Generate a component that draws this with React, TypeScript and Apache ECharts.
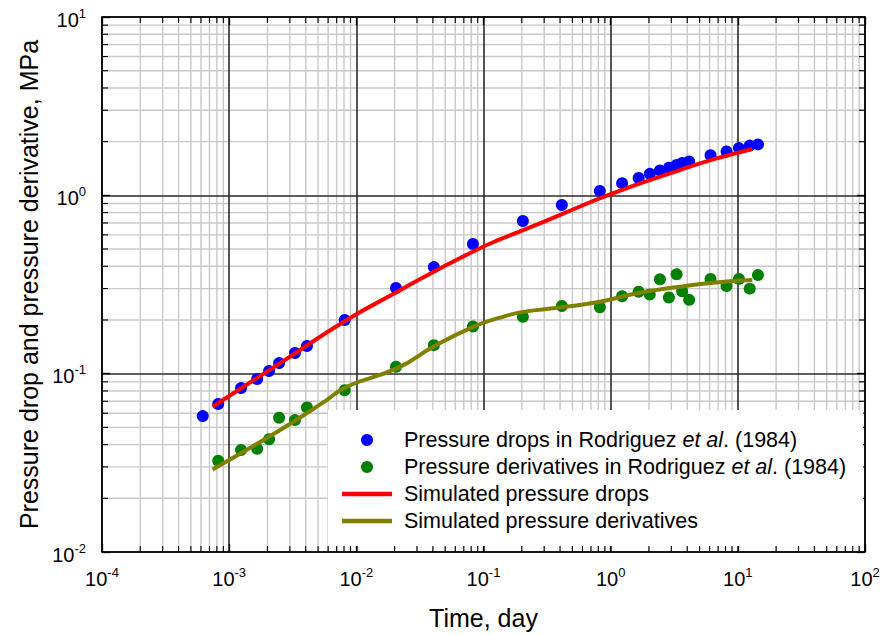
import React, { useEffect, useRef } from 'react';
import * as echarts from 'echarts';

const FONT = "'Liberation Sans', Arial, Helvetica, sans-serif";

const X_MIN = 1e-4;
const X_MAX = 100;
const Y_MIN = 0.01;
const Y_MAX = 10;

// decade starts for minor grid (multiplied by 2..9)
const xDecades = [1e-4, 1e-3, 1e-2, 1e-1, 1, 10];
const yDecades = [1e-2, 1e-1, 1];
const minorMultipliers = [2, 3, 4, 5, 6, 7, 8, 9];

// Measured data (Rodriguez et al., 1984)
const measTime = [
  6.2e-4, 8.2e-4, 1.24e-3, 1.66e-3, 2.06e-3, 2.47e-3, 3.29e-3, 4.09e-3, 8.1e-3,
  0.0205, 0.0407, 0.0826, 0.204, 0.413, 0.822, 1.23, 1.66, 2.03, 2.44, 2.87,
  3.3, 3.65, 4.14, 6.1, 8.15, 10.2, 12.4, 14.4,
];
const measDrop = [
  0.0578, 0.0676, 0.083, 0.0933, 0.1035, 0.1146, 0.1306, 0.143, 0.2,
  0.302, 0.396, 0.533, 0.718, 0.883, 1.057, 1.17, 1.25, 1.32, 1.38, 1.43,
  1.48, 1.52, 1.55, 1.68, 1.76, 1.84, 1.9, 1.93,
];
const derivTime = [
  8.2e-4, 1.24e-3, 1.66e-3, 2.06e-3, 2.47e-3, 3.29e-3, 4.09e-3, 8.1e-3,
  0.0205, 0.0407, 0.0826, 0.204, 0.413, 0.822, 1.23, 1.66, 2.03, 2.44, 2.87,
  3.3, 3.65, 4.14, 6.1, 8.15, 10.2, 12.4, 14.4,
];
const measDeriv = [
  0.0325, 0.0373, 0.0379, 0.0429, 0.0566, 0.0549, 0.0647, 0.0807,
  0.1094, 0.1445, 0.184, 0.2086, 0.2394, 0.2355, 0.2716, 0.2878, 0.278, 0.338, 0.2674,
  0.3606, 0.2897, 0.2594, 0.34, 0.3098, 0.34, 0.2998, 0.357,
];

// Simulated curves
const simDropTime = [7.4e-4, 2.5e-3, 8.4e-3, 0.0205, 0.0403, 0.0937, 0.1346, 0.205, 0.41, 1.0, 3.5, 6.4, 13.0];
const simDrop = [0.0652, 0.1143, 0.2, 0.285, 0.372, 0.505, 0.566, 0.638, 0.782, 1.017, 1.386, 1.59, 1.82];
const simDerivTime = [7.4e-4, 2.5e-3, 5.5e-3, 8.4e-3, 0.0208, 0.0403, 0.083, 0.1346, 0.205, 0.41, 0.82, 1.69, 3.5, 6.4, 13.0];
const simDeriv = [0.029, 0.0482, 0.069, 0.0845, 0.107, 0.1415, 0.183, 0.206, 0.222, 0.2355, 0.253, 0.284, 0.307, 0.3236, 0.335];

const NAME_DROP = 'Pressure drops in Rodriguez et al. (1984)';
const NAME_DERIV = 'Pressure derivatives in Rodriguez et al. (1984)';
const NAME_SIM_DROP = 'Simulated pressure drops';
const NAME_SIM_DERIV = 'Simulated pressure derivatives';

const GRID_MINOR = '#c8c8c8';
const GRID_MAJOR = '#2a2a2a';
const LINE_ICON = 'path://M0 0H100V9H0Z';

const pairs = (xs: number[], ys: number[]) => xs.map((x, i) => [x, ys[i]]);

const expLabel = (v: number) => {
  const e = Math.round(Math.log10(v));
  return `{b|10}{s|${e}}`;
};

const labelRich = {
  b: { fontSize: 20, lineHeight: 26, color: '#000', fontFamily: FONT },
  s: { fontSize: 13, lineHeight: 16, verticalAlign: 'top', color: '#000', fontFamily: FONT },
};

export default function App() {
  const ref = useRef<HTMLDivElement>(null);

  useEffect(() => {
    if (!ref.current) return;
    const chart = echarts.init(ref.current, null, { renderer: 'svg' });

    const minorX = xDecades.flatMap((d) => minorMultipliers.map((m) => m * d));
    const minorY = yDecades.flatMap((d) => minorMultipliers.map((m) => m * d));

    const vRender = (_p: any, api: any) => {
      const v = api.value(0);
      const b = api.coord([v, Y_MIN]);
      const t = api.coord([v, Y_MAX]);
      return {
        type: 'group',
        children: [
          { type: 'line', shape: { x1: b[0], y1: b[1], x2: t[0], y2: t[1] }, style: { stroke: GRID_MINOR, lineWidth: 1.4 } },
          { type: 'line', shape: { x1: b[0], y1: b[1], x2: b[0], y2: b[1] - 6 }, style: { stroke: '#000', lineWidth: 1.1 } },
          { type: 'line', shape: { x1: t[0], y1: t[1], x2: t[0], y2: t[1] + 6 }, style: { stroke: '#000', lineWidth: 1.1 } },
        ],
      };
    };
    const hRender = (_p: any, api: any) => {
      const v = api.value(1);
      const l = api.coord([X_MIN, v]);
      const r = api.coord([X_MAX, v]);
      return {
        type: 'group',
        children: [
          { type: 'line', shape: { x1: l[0], y1: l[1], x2: r[0], y2: r[1] }, style: { stroke: GRID_MINOR, lineWidth: 1.4 } },
          { type: 'line', shape: { x1: l[0], y1: l[1], x2: l[0] + 6, y2: l[1] }, style: { stroke: '#000', lineWidth: 1.1 } },
          { type: 'line', shape: { x1: r[0], y1: r[1], x2: r[0] - 6, y2: r[1] }, style: { stroke: '#000', lineWidth: 1.1 } },
        ],
      };
    };

    const legendFormatter = (name: string) => {
      const idx = name.indexOf('et al.');
      if (idx < 0) return `{f|${name}}`;
      return `{f|${name.slice(0, idx)}}{i|et al}{n|${name.slice(idx + 5)}}`;
    };

    const baseX = { type: 'log', logBase: 10, min: X_MIN, max: X_MAX, z: 1 };
    const baseY = { type: 'log', logBase: 10, min: Y_MIN, max: Y_MAX, z: 1 };
    const axisLine = { show: true, onZero: false, lineStyle: { color: '#000', width: 1.6 } };
    const axisTick = { show: true, inside: true, length: 8, lineStyle: { color: '#000', width: 1.3 } };

    chart.setOption({
      animation: false,
      backgroundColor: '#fff',
      textStyle: { fontFamily: FONT },
      grid: { left: 102, right: 18, top: 17, bottom: 83, containLabel: false, outerBoundsMode: 'none' },
      legend: {
        orient: 'vertical',
        left: 328,
        top: 410,
        padding: [19, 17, 14, 14],
        backgroundColor: '#fff',
        itemWidth: 50,
        itemHeight: 12,
        itemGap: 5,
        symbolKeepAspect: true,
        selectedMode: false,
        data: [
          { name: NAME_DROP, icon: 'circle' },
          { name: NAME_DERIV, icon: 'circle' },
          { name: NAME_SIM_DROP, icon: LINE_ICON },
          { name: NAME_SIM_DERIV, icon: LINE_ICON },
        ],
        formatter: legendFormatter,
        textStyle: {
          fontSize: 21.5,
          color: '#000',
          fontFamily: FONT,
          rich: {
            f: { fontSize: 21.5, color: '#000', fontFamily: FONT, padding: [0, 0, 0, 7] },
            i: { fontSize: 21.5, color: '#000', fontFamily: FONT, fontStyle: 'italic' },
            n: { fontSize: 21.5, color: '#000', fontFamily: FONT },
          },
        },
      },
      xAxis: [
        {
          ...baseX,
          position: 'bottom',
          axisLine,
          axisTick,
          splitLine: { show: true, lineStyle: { color: GRID_MAJOR, width: 1.6 } },
          axisLabel: { margin: 14, formatter: expLabel, rich: labelRich },
          name: 'Time, day',
          nameLocation: 'middle',
          nameGap: 53,
          nameTextStyle: { fontSize: 25, color: '#000', fontFamily: FONT },
        },
        {
          ...baseX,
          position: 'top',
          axisLine,
          axisTick,
          splitLine: { show: false },
          axisLabel: { show: false },
        },
      ],
      yAxis: [
        {
          ...baseY,
          position: 'left',
          axisLine,
          axisTick,
          splitLine: { show: true, lineStyle: { color: GRID_MAJOR, width: 1.6 } },
          axisLabel: { margin: 16, padding: [5, 0, 0, 0], formatter: expLabel, rich: labelRich },
          name: 'Pressure drop and pressure derivative, MPa',
          nameLocation: 'middle',
          nameGap: 60,
          nameRotate: 90,
          nameTextStyle: { fontSize: 25, color: '#000', fontFamily: FONT },
        },
        {
          ...baseY,
          position: 'right',
          axisLine,
          axisTick,
          splitLine: { show: false },
          axisLabel: { show: false },
        },
      ],
      series: [
        {
          type: 'custom',
          name: 'minor-x',
          silent: true,
          z: 0,
          renderItem: vRender,
          data: minorX.map((v) => [v, Y_MIN]),
        },
        {
          type: 'custom',
          name: 'minor-y',
          silent: true,
          z: 0,
          renderItem: hRender,
          data: minorY.map((v) => [X_MIN, v]),
        },
        {
          type: 'scatter',
          name: NAME_DROP,
          symbol: 'circle',
          symbolSize: 12,
          itemStyle: { color: '#0000ff', opacity: 1 },
          data: pairs(measTime, measDrop),
        },
        {
          type: 'scatter',
          name: NAME_DERIV,
          symbol: 'circle',
          symbolSize: 12,
          itemStyle: { color: '#008000', opacity: 1 },
          data: pairs(derivTime, measDeriv),
        },
        {
          type: 'line',
          name: NAME_SIM_DROP,
          symbol: 'none',
          smooth: 0.5,
          lineStyle: { color: '#ff0000', width: 4 },
          itemStyle: { color: '#ff0000' },
          data: pairs(simDropTime, simDrop),
        },
        {
          type: 'line',
          name: NAME_SIM_DERIV,
          symbol: 'none',
          smooth: 0.5,
          lineStyle: { color: '#808000', width: 4 },
          itemStyle: { color: '#808000' },
          data: pairs(simDerivTime, simDeriv),
        },
      ],
    });

    return () => chart.dispose();
  }, []);

  return (
    <div
      ref={ref}
      style={{ position: 'fixed', left: 0, top: 0, width: 883, height: 635, background: '#fff' }}
    />
  );
}
